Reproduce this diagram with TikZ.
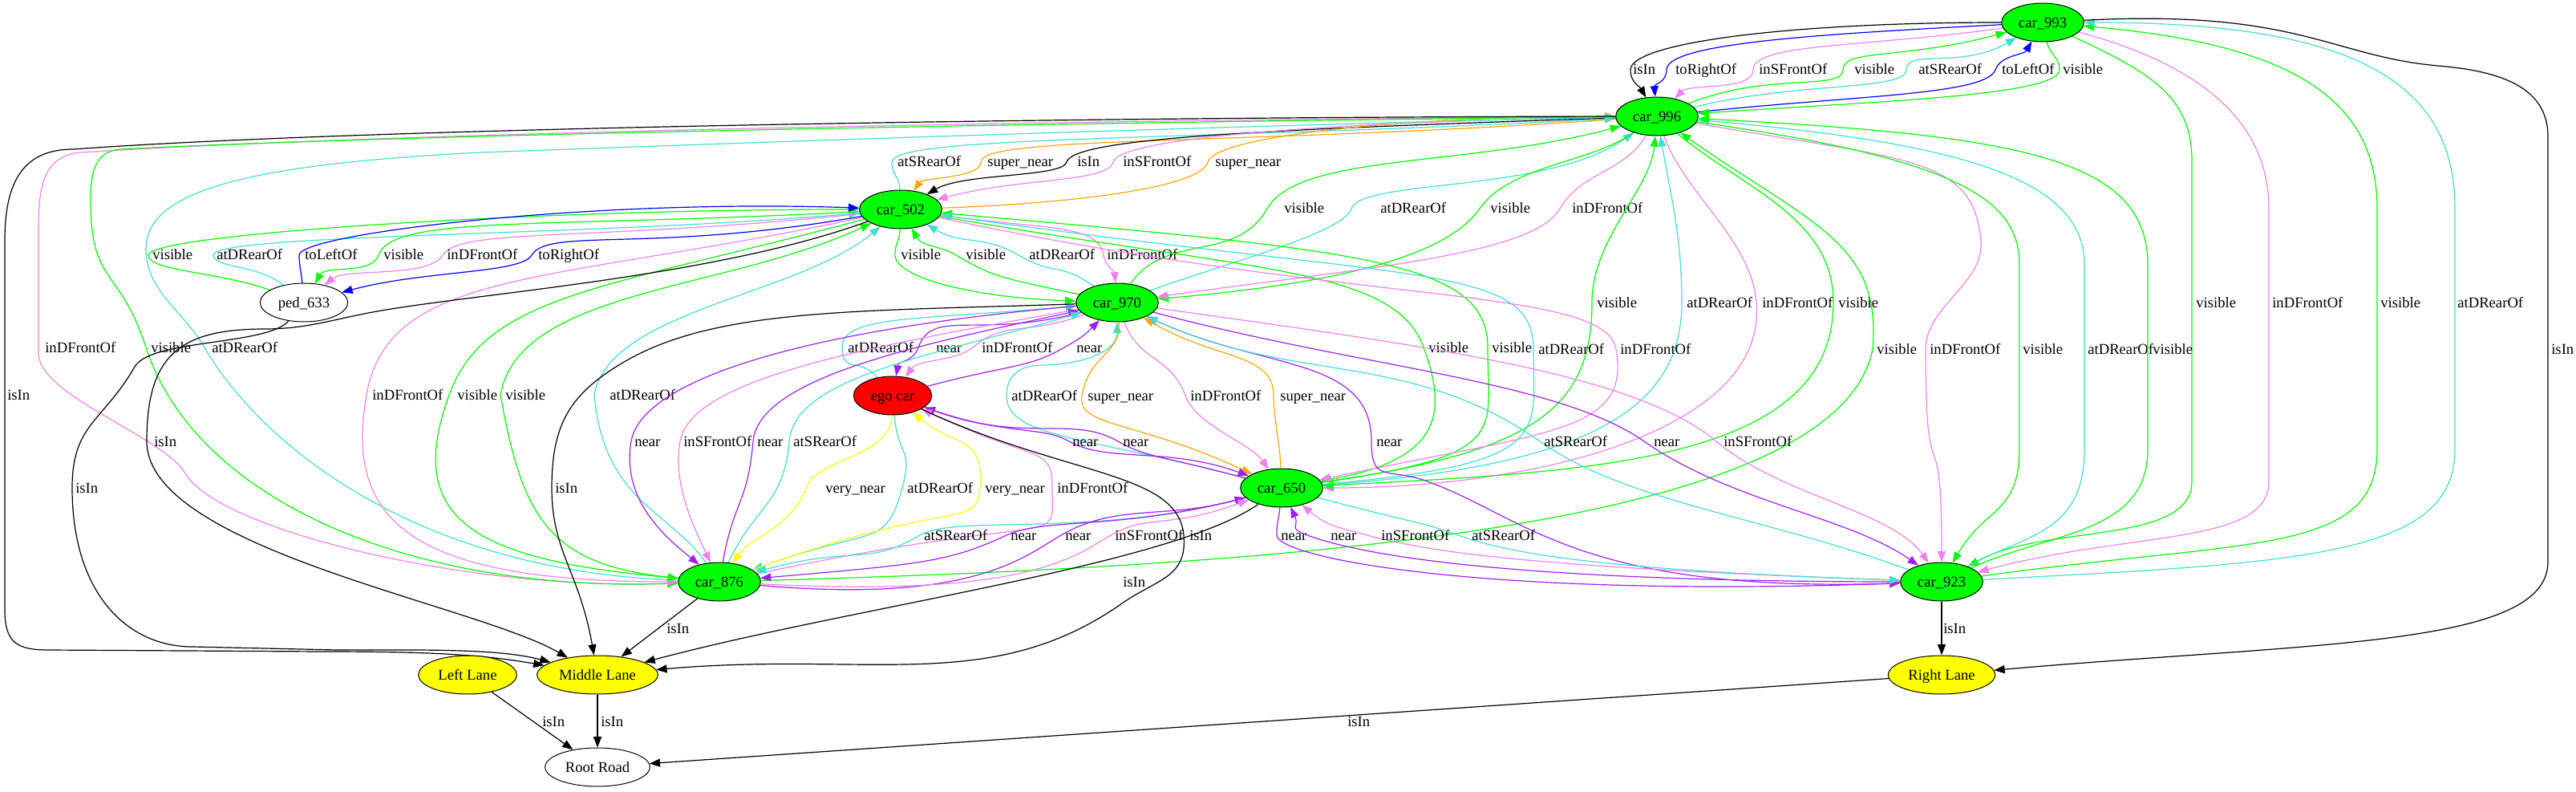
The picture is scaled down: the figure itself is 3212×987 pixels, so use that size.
\documentclass[tikz,border=0pt]{standalone}
\usepackage{fontspec}
\setmainfont{Liberation Serif}
\usetikzlibrary{shapes.geometric,arrows.meta}
\definecolor{cgrn}{HTML}{00FF00}
\definecolor{cred}{HTML}{FF0000}
\definecolor{cyel}{HTML}{FFFF00}
\definecolor{ctur}{HTML}{40E0D0}
\definecolor{cvio}{HTML}{EE82EE}
\definecolor{cpur}{HTML}{A020F0}
\definecolor{corg}{HTML}{FFA500}
\definecolor{cblu}{HTML}{0000FF}
\pgfdeclarelayer{edgelayer}
\pgfsetlayers{edgelayer,main}
\newcommand{\gvfont}{\fontsize{14pt}{16pt}\selectfont}
\newcounter{lc}
\newcommand{\lb}[2]{\stepcounter{lc}\node[lab] (lb\arabic{lc}) at (#1) {#2};}
\tikzset{
  nd/.style={ellipse, draw=black, line width=0.75pt, inner sep=0pt, minimum width=77pt, minimum height=36pt, text height=9.5pt, text depth=0pt, font=\gvfont},
  car/.style={nd, fill=cgrn},
  lane/.style={nd, fill=cyel},
  lab/.style={anchor=west, inner sep=0pt, text height=9pt, text depth=0pt, font=\gvfont},
  edg/.style={line width=0.9pt, -{Triangle[length=10pt,width=7.5pt]}},
  kBlk/.style={draw=black}, kBlu/.style={draw=cblu}, kVio/.style={draw=cvio},
  kGrn/.style={draw=cgrn}, kTur/.style={draw=ctur}, kOrg/.style={draw=corg},
  kPur/.style={draw=cpur}, kYel/.style={draw=cyel}
}
\begin{document}
\begin{tikzpicture}[x=0.75pt,y=0.75pt]
\begin{pgfonlayer}{edgelayer}
\path[use as bounding box, fill=white] (0,0) rectangle (3212,-987);
\end{pgfonlayer}
% nodes
\node[car] (c993) at (2547,-28) {car\_993};
\node[car] (c996) at (2066,-145) {car\_996};
\node[car] (c502) at (1123,-261) {car\_502};
\node[nd, fill=white, minimum width=82pt] (p633) at (379,-377) {ped\_633};
\node[car] (c970) at (1393,-377) {car\_970};
\node[nd, fill=cred, minimum width=73pt] (ego) at (1113,-493) {ego car};
\node[car] (c650) at (1598,-608) {car\_650};
\node[car] (c876) at (897,-725) {car\_876};
\node[car] (c923) at (2421,-725) {car\_923};
\node[lane, minimum width=92pt] (LL) at (583,-841) {Left Lane};
\node[lane, minimum width=113pt] (ML) at (745,-841) {Middle Lane};
\node[lane, minimum width=100pt] (RL) at (2421,-841) {Right Lane};
\node[nd, fill=white, minimum width=98pt] (RR) at (745,-956) {Root Road};

\begin{pgfonlayer}{edgelayer}
% ---- car_993 <-> car_996
\draw[edg,kBlk] (c993) to[out=180,in=90,out distance=200pt,in distance=25pt] (2033,-87) to[out=270,in=120,distance=12pt] (c996); \lb{2036,-87}{isIn}
\draw[edg,kBlu] (c993) to[out=183,in=90,out distance=170pt,in distance=25pt] (2078,-87) to[out=270,in=95,distance=12pt] (c996); \lb{2089,-87}{toRightOf}
\draw[edg,kVio] (c993) to[out=188,in=90,out distance=130pt,in distance=25pt] (2186,-87) to[out=270,in=45,distance=20pt] (c996); \lb{2193,-87}{inSFrontOf}
\draw[edg,kGrn] (c996) to[out=22,in=270,out distance=80pt,in distance=20pt] (2298,-87) to[out=90,in=195,out distance=20pt,in distance=100pt] (c993); \lb{2312,-87}{visible}
\draw[edg,kTur] (c996) to[out=14,in=270,out distance=100pt,in distance=20pt] (2377,-87) to[out=90,in=210,out distance=20pt,in distance=60pt] (c993); \lb{2392,-87}{atSRearOf}
\draw[edg,kBlu] (c996) to[out=6,in=250,out distance=150pt,in distance=25pt] (2488,-87) to[out=70,in=240,distance=15pt] (c993); \lb{2496,-87}{toLeftOf}
\draw[edg,kGrn] (c993) to[out=282,in=90,distance=12pt] (2568,-87) to[out=270,in=4,out distance=25pt,in distance=150pt] (c996); \lb{2572,-87}{visible}

% ---- car_996 <-> car_502
\draw[edg,kTur] (c502) to[out=92,in=270,distance=12pt] (1112,-202) to[out=90,in=183,out distance=25pt,in distance=400pt] (c996); \lb{1119,-202}{atSRearOf}
\draw[edg,kOrg] (c996) to[out=184,in=90,out distance=350pt,in distance=25pt] (1223,-202) to[out=270,in=55,distance=15pt] (c502); \lb{1231,-202}{super\_near}
\draw[edg,kBlk] (c996) to[out=182,in=75,out distance=300pt,in distance=25pt] (1330,-202) to[out=255,in=30,out distance=15pt,in distance=40pt] (c502); \lb{1343,-202}{isIn}
\draw[edg,kVio] (c996) to[out=181,in=75,out distance=250pt,in distance=25pt] (1388,-202) to[out=255,in=15,out distance=20pt,in distance=80pt] (c502); \lb{1400,-202}{inSFrontOf}
\draw[edg,kOrg] (c502) to[out=2,in=255,out distance=120pt,in distance=25pt] (1506,-202) to[out=75,in=180,out distance=25pt,in distance=200pt] (c996); \lb{1515,-202}{super\_near}

% ---- car_996 <-> car_970
\draw[edg,kGrn] (c970) to[out=55,in=240,distance=60pt] (1580,-260) to[out=60,in=195,out distance=60pt,in distance=150pt] (c996); \lb{1601,-260}{visible}
\draw[edg,kTur] (c970) to[out=20,in=250,out distance=80pt,in distance=25pt] (1685,-260) to[out=70,in=215,out distance=30pt,in distance=100pt] (c996); \lb{1721,-260}{atDRearOf}
\draw[edg,kGrn] (c996) to[out=215,in=55,distance=50pt] (1845,-260) to[out=235,in=5,out distance=60pt,in distance=150pt] (c970); \lb{1858,-260}{visible}
\draw[edg,kVio] (c996) to[out=240,in=60,distance=40pt] (1945,-260) to[out=240,in=8,out distance=50pt,in distance=200pt] (c970); \lb{1960,-260}{inDFrontOf}

% ---- car_502 <-> ped_633
\draw[edg,kGrn] (p633) to[out=160,in=270,out distance=50pt,in distance=15pt] (185,-318) to[out=90,in=180,out distance=20pt,in distance=300pt] (c502); \lb{190,-318}{visible}
\draw[edg,kTur] (p633) to[out=140,in=270,out distance=30pt,in distance=12pt] (266,-318) to[out=90,in=185,out distance=20pt,in distance=250pt] (c502); \lb{270,-318}{atDRearOf}
\draw[edg,kBlu] (p633) to[out=95,in=270,distance=10pt] (373,-318) to[out=90,in=178,out distance=20pt,in distance=250pt] (c502); \lb{380,-318}{toLeftOf}
\draw[edg,kGrn] (c502) to[out=183,in=70,out distance=300pt,in distance=40pt] (472,-318) to[out=250,in=60,distance=20pt] (p633); \lb{478,-318}{visible}
\draw[edg,kVio] (c502) to[out=186,in=60,out distance=250pt,in distance=30pt] (552,-318) to[out=240,in=40,distance=25pt] (p633); \lb{557,-318}{inDFrontOf}
\draw[edg,kBlu] (c502) to[out=190,in=60,out distance=200pt,in distance=30pt] (663,-318) to[out=240,in=15,out distance=20pt,in distance=80pt] (p633); \lb{671,-318}{toRightOf}

% ---- car_502 <-> car_970
\draw[edg,kGrn] (c502) to[out=268,in=90,distance=12pt] (1116,-318) to[out=270,in=178,out distance=20pt,in distance=100pt] (c970); \lb{1123,-318}{visible}
\draw[edg,kGrn] (c970) to[out=168,in=-30,out distance=80pt,in distance=40pt] (1192,-318) to[out=150,in=300,distance=20pt] (c502); \lb{1204,-318}{visible}
\draw[edg,kTur] (c970) to[out=145,in=-30,distance=40pt] (1270,-318) to[out=150,in=330,distance=40pt] (c502); \lb{1283,-318}{atDRearOf}
\draw[edg,kVio] (c502) to[out=-8,in=100,out distance=100pt,in distance=30pt] (1376,-318) to[out=280,in=95,distance=12pt] (c970); \lb{1380,-318}{inDFrontOf}

% ---- car_996 <-> car_650
\draw[edg,kGrn] (c650) to[out=8,in=270,out distance=200pt,in distance=100pt] (1985,-377) to[out=90,in=265,out distance=60pt,in distance=50pt] (c996); \lb{1991,-377}{visible}
\draw[edg,kTur] (c650) to[out=4,in=270,out distance=250pt,in distance=100pt] (2097,-377) to[out=90,in=280,out distance=60pt,in distance=60pt] (c996); \lb{2103,-377}{atDRearOf}
\draw[edg,kVio] (c996) to[out=290,in=95,distance=60pt] (2190,-377) to[out=275,in=0,out distance=120pt,in distance=200pt] (c650); \lb{2197,-377}{inDFrontOf}
\draw[edg,kGrn] (c996) to[out=-40,in=90,distance=80pt] (2286,-377) to[out=270,in=3,out distance=150pt,in distance=250pt] (c650); \lb{2292,-377}{visible}

% ---- car_993 <-> car_923
\draw[edg,kGrn] (c993) to[out=-25,in=90,out distance=80pt,in distance=60pt] (2733,-200) -- (2733,-600) to[out=270,in=30,out distance=60pt,in distance=80pt] (c923); \lb{2738,-377}{visible}
\draw[edg,kVio] (c993) to[out=-15,in=90,out distance=120pt,in distance=80pt] (2829,-260) -- (2829,-600) to[out=270,in=15,out distance=60pt,in distance=150pt] (c923); \lb{2833,-377}{inDFrontOf}
\draw[edg,kGrn] (c923) to[out=8,in=270,out distance=250pt,in distance=100pt] (2964,-560) -- (2964,-260) to[out=90,in=-5,out distance=100pt,in distance=200pt] (c993); \lb{2968,-377}{visible}
\draw[edg,kTur] (c923) to[out=3,in=270,out distance=300pt,in distance=100pt] (3061,-560) -- (3061,-260) to[out=90,in=0,out distance=120pt,in distance=250pt] (c993); \lb{3064,-377}{atDRearOf}

% ---- car_996 <-> car_876
\draw[edg,kVio] (c996) .. controls (1300,-150) and (500,-165) .. (100,-190) to[out=185,in=90,distance=40pt] (48,-300) -- (48,-440) to[out=270,in=120,distance=40pt] (231,-590) to[out=300,in=182,out distance=60pt,in distance=200pt] (c876); \lb{56,-433}{inDFrontOf}
\draw[edg,kGrn] (c996) .. controls (1300,-153) and (500,-168) .. (150,-186) to[out=185,in=90,distance=25pt] (113,-250) to[out=270,in=108,distance=80pt] (182,-433) to[out=288,in=182,out distance=150pt,in distance=250pt] (c876); \lb{188,-433}{visible}
\draw[edg,kTur] (c876) to[out=178,in=300,out distance=250pt,in distance=100pt] (255,-433) to[out=120,in=270,distance=40pt] (182,-310) .. controls (182,-240) and (300,-205) .. (600,-190) .. controls (1000,-175) and (1600,-155) .. (c996); \lb{264,-433}{atDRearOf}
\draw[edg,kGrn] (c876) .. controls (1600,-705) and (2290,-660) .. (2335,-435) to[out=85,in=-35,out distance=100pt,in distance=150pt] (c996); \lb{2340,-435}{visible}

% ---- car_502 <-> car_650
\draw[edg,kGrn] (c502) to[out=-10,in=110,out distance=300pt,in distance=80pt] (1775,-433) to[out=290,in=10,out distance=60pt,in distance=120pt] (c650); \lb{1781,-433}{visible}
\draw[edg,kGrn] (c650) to[out=8,in=270,out distance=180pt,in distance=80pt] (1855,-433) to[out=90,in=-5,out distance=80pt,in distance=400pt] (c502); \lb{1860,-433}{visible}
\draw[edg,kTur] (c650) to[out=5,in=270,out distance=220pt,in distance=80pt] (1912,-435) to[out=90,in=-8,out distance=80pt,in distance=450pt] (c502); \lb{1918,-435}{atDRearOf}
\draw[edg,kVio] (c502) to[out=-12,in=100,out distance=400pt,in distance=60pt] (2015,-435) to[out=280,in=12,out distance=80pt,in distance=220pt] (c650); \lb{2020,-435}{inDFrontOf}

% ---- car_996 <-> car_923
\draw[edg,kVio] (c996) to[out=-10,in=95,out distance=200pt,in distance=80pt] (2470,-300) to[out=275,in=90,distance=40pt] (2401,-435) to[out=270,in=90,distance=150pt] (c923); \lb{2406,-435}{inDFrontOf}
\draw[edg,kGrn] (c996) to[out=-8,in=90,out distance=250pt,in distance=60pt] (2518,-330) -- (2518,-560) to[out=270,in=60,out distance=60pt,in distance=60pt] (c923); \lb{2522,-435}{visible}
\draw[edg,kTur] (c923) to[out=30,in=270,out distance=60pt,in distance=80pt] (2599,-560) -- (2599,-330) to[out=90,in=-5,out distance=80pt,in distance=250pt] (c996); \lb{2603,-435}{atDRearOf}
\draw[edg,kGrn] (c923) to[out=25,in=270,out distance=80pt,in distance=80pt] (2678,-560) -- (2678,-330) to[out=90,in=-3,out distance=100pt,in distance=300pt] (c996); \lb{2684,-435}{visible}

% ---- car_993 -> Right Lane
\draw[edg,kBlk] (c993) to[out=3,in=175,out distance=200pt,in distance=100pt] (3040,-82) to[out=-5,in=90,distance=50pt] (3177,-170) -- (3177,-700) to[out=270,in=5,out distance=80pt,in distance=300pt] (RL); \lb{3181,-435}{isIn}

% ---- car_996 -> Middle Lane (far left)
\draw[edg,kBlk] (c996) .. controls (1300,-146) and (450,-160) .. (91,-186) to[out=180,in=90,distance=50pt] (6,-300) -- (6,-760) to[out=270,in=180,distance=30pt] (60,-810) -- (400,-812) to[out=0,in=170,out distance=100pt,in distance=60pt] (ML); \lb{9,-492}{isIn}

% ---- car_502 <-> car_876
\draw[edg,kVio] (c502) to[out=192,in=80,out distance=300pt,in distance=120pt] (457,-492) to[out=260,in=180,out distance=120pt,in distance=250pt] (c876); \lb{464,-492}{inDFrontOf}
\draw[edg,kGrn] (c502) to[out=195,in=70,out distance=250pt,in distance=100pt] (560,-492) to[out=250,in=175,out distance=120pt,in distance=200pt] (c876); \lb{570,-492}{visible}
\draw[edg,kGrn] (c876) to[out=175,in=280,out distance=120pt,in distance=120pt] (624,-492) to[out=80,in=205,out distance=100pt,in distance=150pt] (c502); \lb{630,-492}{visible}
\draw[edg,kTur] (c876) to[out=125,in=275,out distance=60pt,in distance=100pt] (741,-492) to[out=80,in=220,out distance=80pt,in distance=100pt] (c502); \lb{760,-492}{atDRearOf}

% ---- ego <-> car_970
\draw[edg,kTur] (ego) to[out=130,in=270,distance=25pt] (1050,-433) to[out=90,in=185,out distance=30pt,in distance=150pt] (c970); \lb{1057,-433}{atDRearOf}
\draw[edg,kPur] (c970) to[out=195,in=70,out distance=100pt,in distance=40pt] (1145,-433) to[out=250,in=80,distance=15pt] (ego); \lb{1167,-433}{near}
\draw[edg,kVio] (c970) to[out=200,in=40,out distance=60pt,in distance=40pt] (1213,-433) to[out=220,in=55,distance=20pt] (ego); \lb{1224,-433}{inDFrontOf}
\draw[edg,kPur] (ego) to[out=15,in=210,out distance=80pt,in distance=40pt] (1327,-433) to[out=30,in=225,distance=20pt] (c970); \lb{1342,-433}{near}

% ---- car_970 <-> car_650
\draw[edg,kTur] (c650) to[out=165,in=270,out distance=150pt,in distance=40pt] (1255,-493) to[out=90,in=180,distance=20pt] (1300,-455) to[out=0,in=270,distance=30pt] (c970); \lb{1261,-493}{atDRearOf}
\draw[edg,kOrg] (c970) to[out=275,in=80,out distance=30pt,in distance=40pt] (1349,-493) to[out=260,in=155,out distance=30pt,in distance=120pt] (c650); \lb{1356,-493}{super\_near}
\draw[edg,kVio] (c970) to[out=290,in=110,distance=40pt] (1478,-493) to[out=290,in=125,distance=30pt] (c650); \lb{1484,-493}{inDFrontOf}
\draw[edg,kOrg] (c650) to[out=92,in=270,distance=20pt] (1588,-493) to[out=90,in=-30,out distance=40pt,in distance=80pt] (c970); \lb{1596,-493}{super\_near}

% ---- car_502 -> Middle Lane
\draw[edg,kBlk] (c502) to[out=200,in=10,out distance=150pt,in distance=100pt] (470,-388) to[out=190,in=0,distance=40pt] (330,-410) to[out=180,in=90,distance=80pt] (183,-550) to[out=270,in=150,out distance=100pt,in distance=100pt] (ML); \lb{192,-550}{isIn}

% ---- car_970 <-> car_876
\draw[edg,kPur] (c970) to[out=185,in=80,out distance=250pt,in distance=60pt] (787,-550) to[out=260,in=140,out distance=60pt,in distance=30pt] (c876); \lb{791,-550}{near}
\draw[edg,kVio] (c970) to[out=190,in=80,out distance=200pt,in distance=60pt] (848,-550) to[out=260,in=115,distance=40pt] (c876); \lb{852,-550}{inSFrontOf}
\draw[edg,kPur] (c876) to[out=80,in=265,distance=60pt] (939,-550) to[out=85,in=192,out distance=60pt,in distance=150pt] (c970); \lb{944,-550}{near}
\draw[edg,kTur] (c876) to[out=65,in=265,distance=60pt] (984,-550) to[out=85,in=196,out distance=60pt,in distance=150pt] (c970); \lb{989,-550}{atSRearOf}

% ---- ego <-> car_650
\draw[edg,kPur] (ego) to[out=-20,in=150,out distance=80pt,in distance=30pt] (1333,-550) to[out=-30,in=160,out distance=40pt,in distance=80pt] (c650); \lb{1337,-550}{near}
\draw[edg,kPur] (c650) to[out=165,in=-30,out distance=80pt,in distance=30pt] (1394,-550) to[out=150,in=-20,out distance=50pt,in distance=100pt] (ego); \lb{1400,-550}{near}

% ---- car_970 <-> car_923
\draw[edg,kPur] (c923) to[out=182,in=-20,out distance=300pt,in distance=100pt] (1780,-600) to[out=160,in=270,distance=40pt] (1710,-550) to[out=90,in=-25,out distance=80pt,in distance=120pt] (c970); \lb{1716,-550}{near}
\draw[edg,kPur] (c970) to[out=-15,in=145,out distance=200pt,in distance=100pt] (2050,-550) to[out=-35,in=145,out distance=100pt,in distance=80pt] (c923); \lb{2062,-550}{near}
\draw[edg,kTur] (c923) to[out=160,in=-35,out distance=150pt,in distance=100pt] (1920,-550) to[out=145,in=-25,out distance=150pt,in distance=150pt] (c970); \lb{1925,-550}{atSRearOf}
\draw[edg,kVio] (c970) to[out=-8,in=140,out distance=250pt,in distance=100pt] (2140,-550) to[out=-40,in=125,out distance=80pt,in distance=60pt] (c923); \lb{2149,-550}{inSFrontOf}

% ---- ped_633 -> Middle Lane, car_970 -> Middle Lane
\draw[edg,kBlk] (p633) to[out=230,in=60,distance=30pt] (168,-457) to[out=240,in=90,distance=60pt] (90,-608) to[out=270,in=180,out distance=100pt,in distance=60pt] (240,-806) -- (420,-810) to[out=0,in=165,out distance=80pt,in distance=50pt] (ML); \lb{94,-608}{isIn}
\draw[edg,kBlk] (c970) to[out=182,in=30,out distance=200pt,in distance=100pt] (780,-450) to[out=210,in=90,distance=60pt] (688,-608) to[out=270,in=100,out distance=60pt,in distance=80pt] (ML); \lb{692,-608}{isIn}

% ---- ego <-> car_876
\draw[edg,kYel] (ego) to[out=268,in=70,out distance=40pt,in distance=30pt] (1005,-608) to[out=250,in=55,out distance=40pt,in distance=30pt] (c876); \lb{1029,-608}{very\_near}
\draw[edg,kTur] (ego) to[out=275,in=75,distance=40pt] (1125,-608) to[out=255,in=20,out distance=60pt,in distance=120pt] (c876); \lb{1131,-608}{atDRearOf}
\draw[edg,kYel] (c876) to[out=20,in=265,out distance=200pt,in distance=40pt] (1222,-608) to[out=85,in=-40,out distance=50pt,in distance=50pt] (ego); \lb{1228,-608}{very\_near}
\draw[edg,kVio] (c876) to[out=12,in=270,out distance=300pt,in distance=60pt] (1312,-608) to[out=90,in=-25,out distance=40pt,in distance=120pt] (ego); \lb{1318,-608}{inDFrontOf}

% ---- car_650 <-> car_876
\draw[edg,kTur] (c650) to[out=195,in=30,out distance=150pt,in distance=40pt] (1147,-667) to[out=210,in=15,out distance=60pt,in distance=100pt] (c876); \lb{1152,-667}{atSRearOf}
\draw[edg,kPur] (c650) to[out=195,in=25,out distance=120pt,in distance=40pt] (1255,-667) to[out=205,in=5,out distance=60pt,in distance=150pt] (c876); \lb{1260,-667}{near}
\draw[edg,kPur] (c876) to[out=-5,in=210,out distance=200pt,in distance=40pt] (1323,-667) to[out=30,in=195,out distance=60pt,in distance=80pt] (c650); \lb{1328,-667}{near}
\draw[edg,kVio] (c876) to[out=-3,in=210,out distance=250pt,in distance=40pt] (1385,-667) to[out=30,in=200,out distance=40pt,in distance=80pt] (c650); \lb{1390,-667}{inSFrontOf}

% ---- ego, car_650 -> Middle Lane
\draw[edg,kBlk] (ego) to[out=-25,in=95,out distance=150pt,in distance=60pt] (1476,-667) to[out=275,in=35,out distance=40pt,in distance=40pt] (1399,-752) to[out=215,in=5,out distance=150pt,in distance=200pt] (ML); \lb{1483,-667}{isIn}
\draw[edg,kBlk] (c650) to[out=215,in=15,out distance=100pt,in distance=200pt] (ML); \lb{1400,-725}{isIn}

% ---- car_650 <-> car_923
\draw[edg,kPur] (c650) to[out=265,in=90,distance=15pt] (1592,-667) to[out=270,in=182,out distance=20pt,in distance=400pt] (c923); \lb{1597,-667}{near}
\draw[edg,kPur] (c923) to[out=180,in=-20,out distance=400pt,in distance=40pt] (1630,-667) to[out=160,in=295,out distance=20pt,in distance=20pt] (c650); \lb{1659,-667}{near}
\draw[edg,kVio] (c923) to[out=178,in=-15,out distance=350pt,in distance=60pt] (1705,-667) to[out=165,in=320,out distance=30pt,in distance=30pt] (c650); \lb{1722,-667}{inSFrontOf}
\draw[edg,kTur] (c650) to[out=-15,in=160,out distance=100pt,in distance=40pt] (1818,-667) to[out=-20,in=178,out distance=60pt,in distance=250pt] (c923); \lb{1835,-667}{atSRearOf}

% ---- lanes
\draw[edg,kBlk] (c876) -- (ML); \lb{831,-783}{isIn}
\draw[edg,kBlk] (c923) -- (RL); \lb{2423,-783}{isIn}
\draw[edg,kBlk] (LL) -- (RR); \lb{676,-899}{isIn}
\draw[edg,kBlk] (ML) -- (RR); \lb{749,-899}{isIn}
\draw[edg,kBlk] (RL) -- (RR); \lb{1680,-899}{isIn}
\end{pgfonlayer}
\end{tikzpicture}
\end{document}
